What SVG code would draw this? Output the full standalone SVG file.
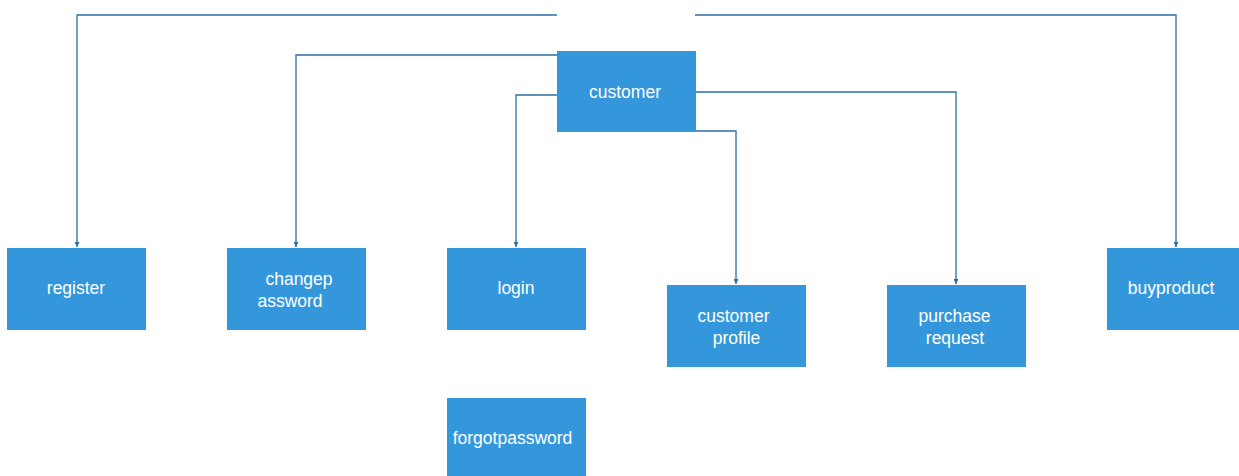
<svg xmlns="http://www.w3.org/2000/svg" width="1239" height="476" viewBox="0 0 1239 476">
<style>
.n{fill:#3597db}
.t{fill:#ffffff;font-family:"Liberation Sans",Arial,sans-serif;font-size:17.5px;text-anchor:middle}
.c{fill:none;stroke:#2a6fa8;stroke-width:1.3}
</style>
<defs>
<marker id="b" markerWidth="6" markerHeight="5" refX="5" refY="2.5" orient="auto" markerUnits="userSpaceOnUse">
<path d="M0,0 L5,2.5 L0,5 Z" fill="#2a6fa8"/>
</marker>
</defs>
<g id="connectors">
<path class="c" d="M557,15 H77 V247" marker-end="url(#b)"/>
<path class="c" d="M695,15 H1176 V247" marker-end="url(#b)"/>
<path class="c" d="M557,55 H296 V247" marker-end="url(#b)"/>
<path class="c" d="M557,95 H516 V247" marker-end="url(#b)"/>
<path class="c" d="M696,131 H736 V284" marker-end="url(#b)"/>
<path class="c" d="M696,92 H956 V284" marker-end="url(#b)"/>
</g>
<g id="customer"><rect class="n" x="557" y="51" width="139" height="81"/><text class="t" x="625" y="98">customer</text></g>
<g id="register"><rect class="n" x="7" y="248" width="139" height="82"/><text class="t" x="76" y="294">register</text></g>
<g id="changepassword"><rect class="n" x="227" y="248" width="139" height="82"/><text class="t" x="299" y="285">changep</text><text class="t" x="290" y="307">assword</text></g>
<g id="login"><rect class="n" x="447" y="248" width="139" height="82"/><text class="t" x="516" y="294">login</text></g>
<g id="customerprofile"><rect class="n" x="667" y="285" width="139" height="82"/><text class="t" x="733.5" y="322">customer</text><text class="t" x="736.5" y="344">profile</text></g>
<g id="purchaserequest"><rect class="n" x="887" y="285" width="139" height="82"/><text class="t" x="954.5" y="322">purchase</text><text class="t" x="955" y="344">request</text></g>
<g id="buyproduct"><rect class="n" x="1107" y="248" width="132" height="82"/><text class="t" x="1171" y="294">buyproduct</text></g>
<g id="forgotpassword"><rect class="n" x="447" y="398" width="139" height="78"/><text class="t" x="512.5" y="444">forgotpassword</text></g>
</svg>
